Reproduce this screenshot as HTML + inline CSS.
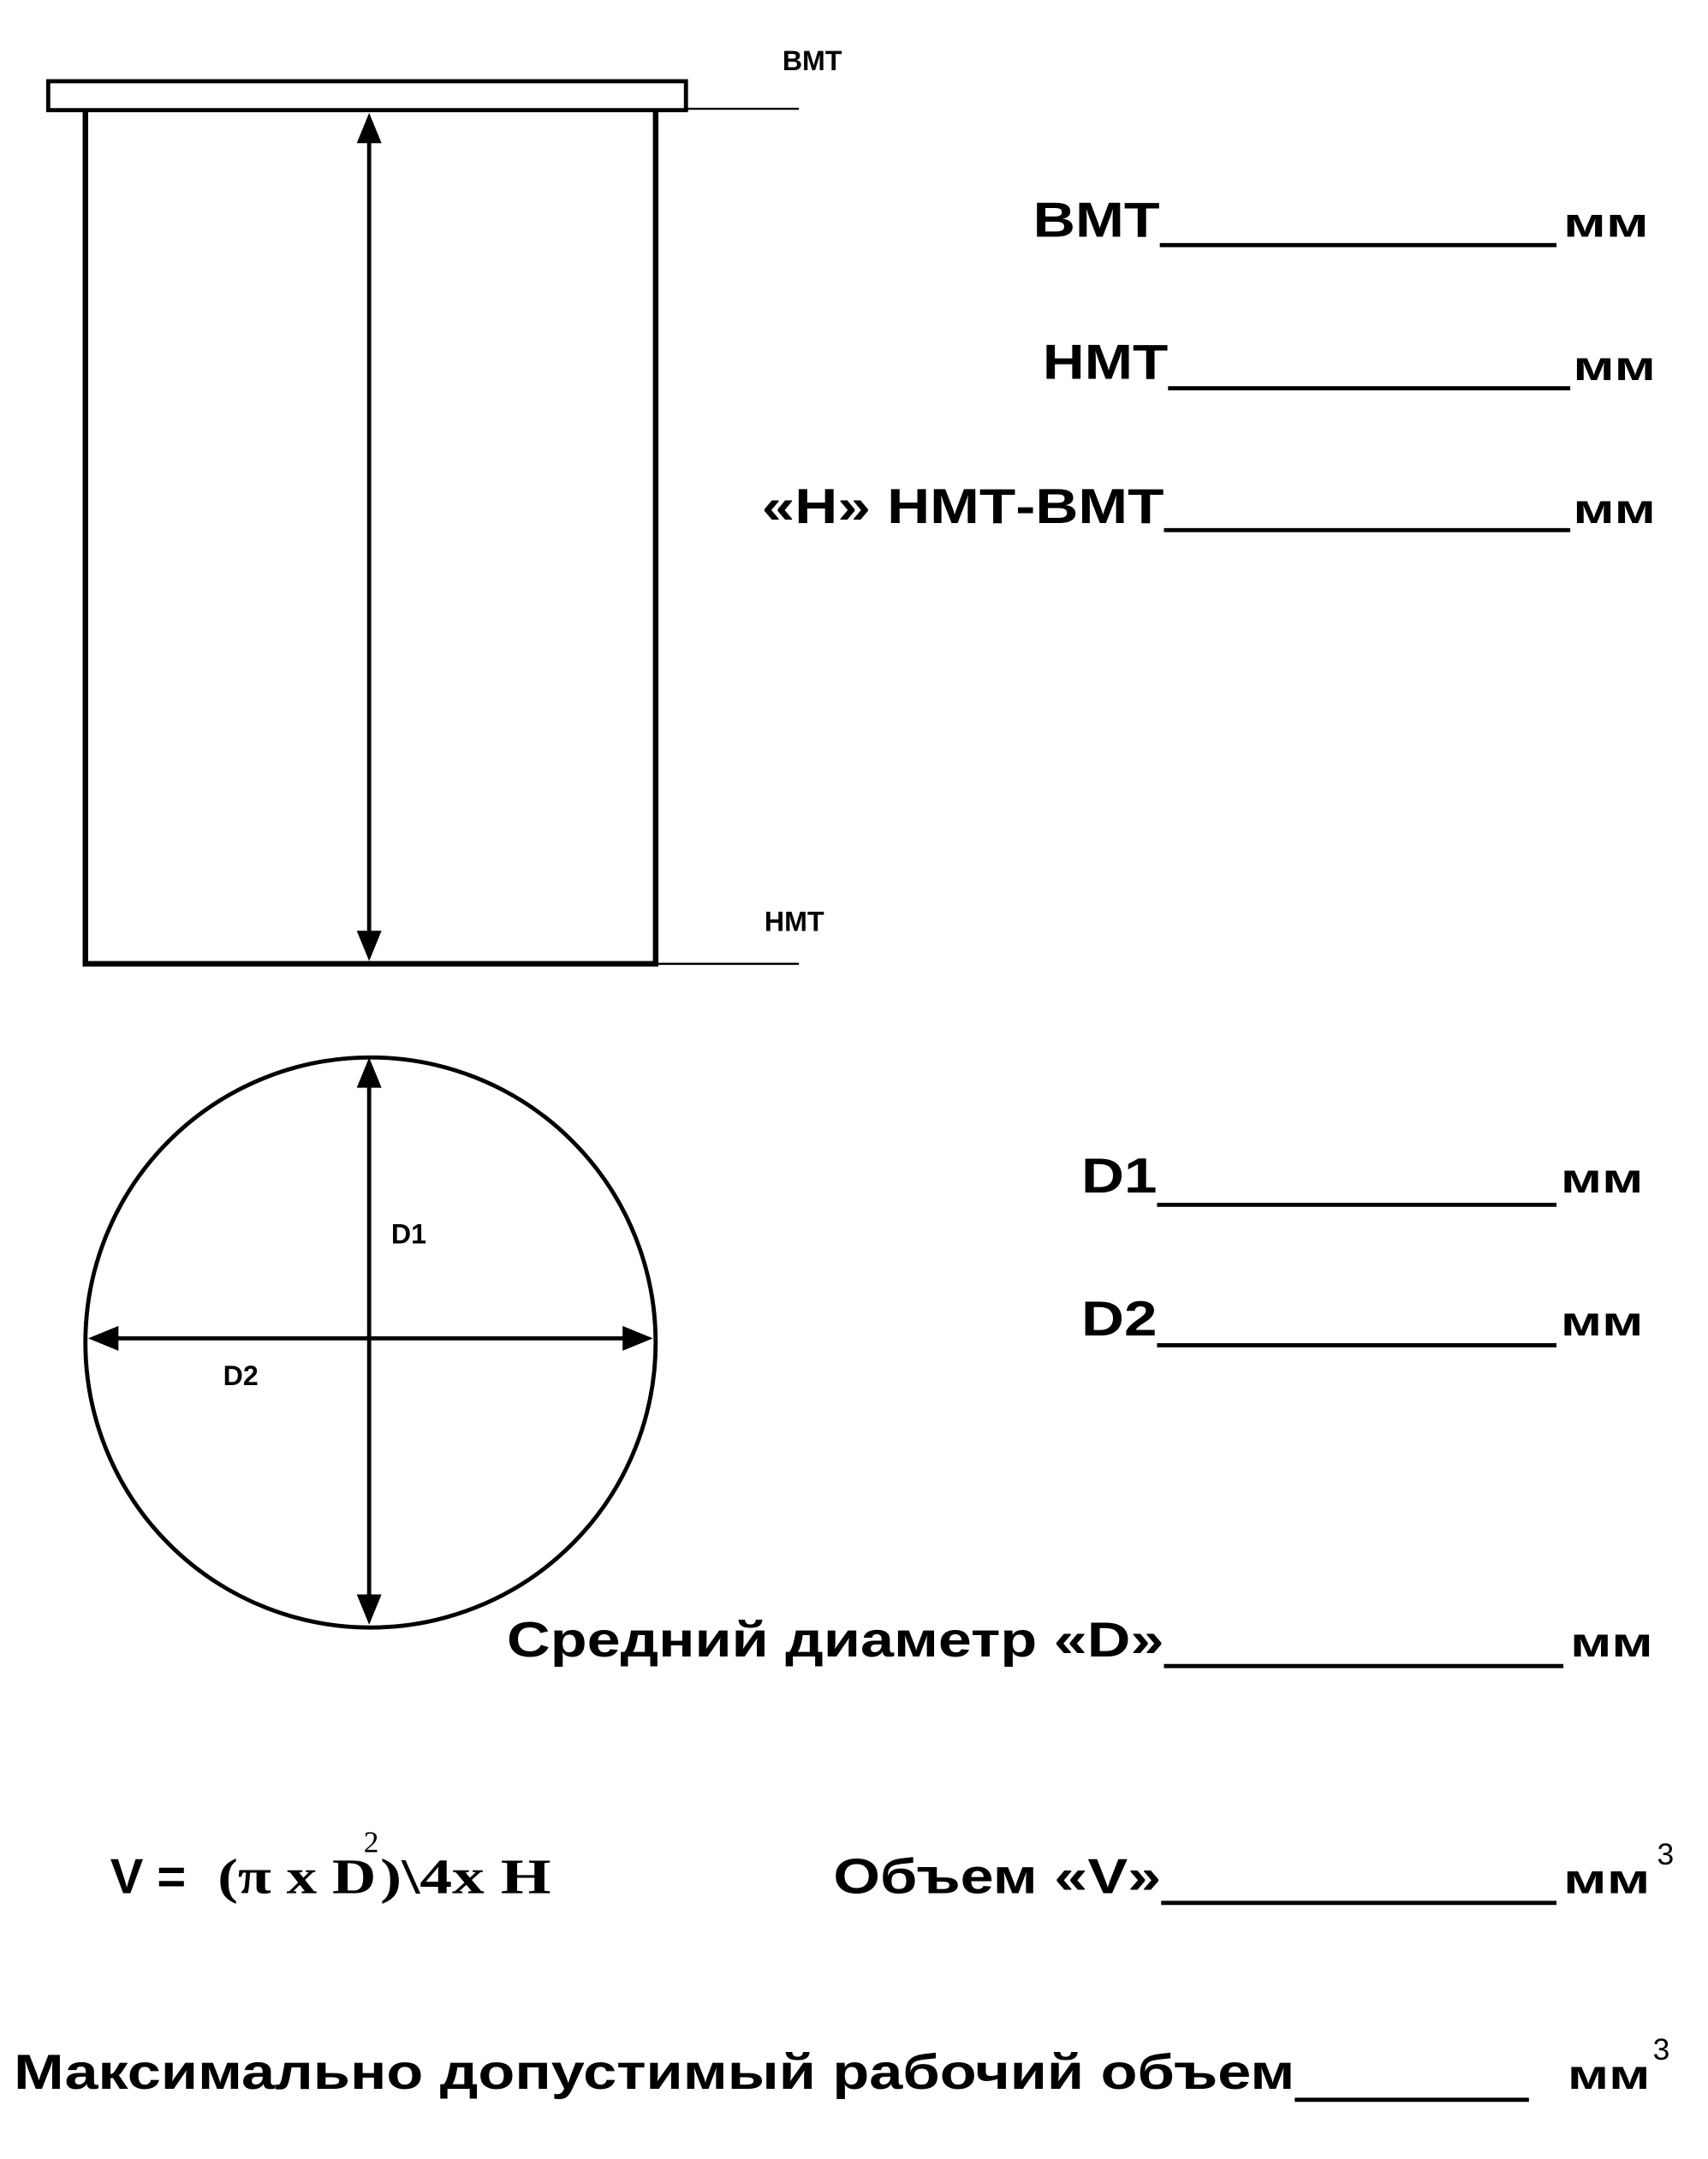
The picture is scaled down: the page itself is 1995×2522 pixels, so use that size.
<!DOCTYPE html>
<html><head><meta charset="utf-8"><style>html,body{margin:0;padding:0;background:#fff}svg{display:block}</style></head>
<body>
<svg width="1995" height="2522" viewBox="0 0 1240 1568" preserveAspectRatio="none" xmlns="http://www.w3.org/2000/svg" font-family="Liberation Sans, Arial, sans-serif" font-weight="bold" fill="#000">
<rect x="35" y="59" width="463" height="21" fill="none" stroke="#000" stroke-width="3"/>
<line x1="62" y1="80" x2="62" y2="700" stroke="#000" stroke-width="4"/>
<line x1="476" y1="80" x2="476" y2="700" stroke="#000" stroke-width="4"/>
<line x1="60" y1="700" x2="478" y2="700" stroke="#000" stroke-width="4"/>
<line x1="498" y1="79" x2="580" y2="79" stroke="#000" stroke-width="1.5"/>
<line x1="476" y1="700" x2="580" y2="700" stroke="#000" stroke-width="1.5"/>
<text x="568" y="51" font-size="20">ВМТ</text>
<text x="555" y="676" font-size="20">НМТ</text>
<line x1="268" y1="95" x2="268" y2="685" stroke="#000" stroke-width="3"/>
<polygon points="268,82 259,104 277,104"/>
<polygon points="268,698 259,676 277,676"/>
<circle cx="269" cy="975" r="207" fill="none" stroke="#000" stroke-width="3"/>
<line x1="268" y1="780" x2="268" y2="1168" stroke="#000" stroke-width="3"/>
<polygon points="268,768 259,790 277,790"/>
<polygon points="268,1180 259,1158 277,1158"/>
<line x1="76" y1="972" x2="462" y2="972" stroke="#000" stroke-width="3"/>
<polygon points="64,972 86,963 86,981"/>
<polygon points="474,972 452,963 452,981"/>
<text x="284" y="903" font-size="20">D1</text>
<text x="162" y="1006" font-size="20">D2</text>
<g font-size="36">
<text x="750" y="172" textLength="92" lengthAdjust="spacingAndGlyphs">ВМТ</text>
<text x="757" y="275" textLength="91" lengthAdjust="spacingAndGlyphs">НМТ</text>
<text x="553" y="380" textLength="292" lengthAdjust="spacingAndGlyphs">«Н» НМТ-ВМТ</text>
<text x="785" y="866" textLength="55" lengthAdjust="spacingAndGlyphs">D1</text>
<text x="785" y="970" textLength="55" lengthAdjust="spacingAndGlyphs">D2</text>
<text x="368" y="1203" textLength="477" lengthAdjust="spacingAndGlyphs">Средний диаметр «D»</text>
<text x="605" y="1375" textLength="238" lengthAdjust="spacingAndGlyphs">Объем «V»</text>
<text x="10" y="1517" textLength="930" lengthAdjust="spacingAndGlyphs">Максимально допустимый рабочий объем</text>
</g>
<g stroke="#000" stroke-width="3">
<line x1="842" y1="178" x2="1130" y2="178"/>
<line x1="848" y1="282" x2="1140" y2="282"/>
<line x1="845" y1="385" x2="1140" y2="385"/>
<line x1="840" y1="875" x2="1130" y2="875"/>
<line x1="840" y1="977" x2="1130" y2="977"/>
<line x1="845" y1="1210" x2="1135" y2="1210"/>
<line x1="843" y1="1382" x2="1130" y2="1382"/>
<line x1="940" y1="1525" x2="1110" y2="1525"/>
</g>
<g font-size="30">
<text x="1135" y="172" textLength="62" lengthAdjust="spacingAndGlyphs">мм</text>
<text x="1142" y="276" textLength="60" lengthAdjust="spacingAndGlyphs">мм</text>
<text x="1142" y="380" textLength="60" lengthAdjust="spacingAndGlyphs">мм</text>
<text x="1133" y="866" textLength="60" lengthAdjust="spacingAndGlyphs">мм</text>
<text x="1133" y="970" textLength="60" lengthAdjust="spacingAndGlyphs">мм</text>
<text x="1140" y="1203" textLength="60" lengthAdjust="spacingAndGlyphs">мм</text>
<text x="1135" y="1375" textLength="63" lengthAdjust="spacingAndGlyphs">мм</text>
<text x="1138" y="1517" textLength="60" lengthAdjust="spacingAndGlyphs">мм</text>
</g>
<text x="1203" y="1354" font-size="22" font-weight="normal">3</text>
<text x="1200" y="1496" font-size="22" font-weight="normal">3</text>
<g font-family="Liberation Serif, Times New Roman, serif" font-size="36">
<text x="80" y="1375" font-family="Liberation Sans, Arial, sans-serif">V =</text>
<text x="158" y="1375" textLength="115" lengthAdjust="spacingAndGlyphs">(π x D</text>
<text x="264" y="1345" font-size="22" font-weight="normal">2</text>
<text x="276" y="1375" textLength="124" lengthAdjust="spacingAndGlyphs">)\4x H</text>
</g>
</svg>
</body></html>
